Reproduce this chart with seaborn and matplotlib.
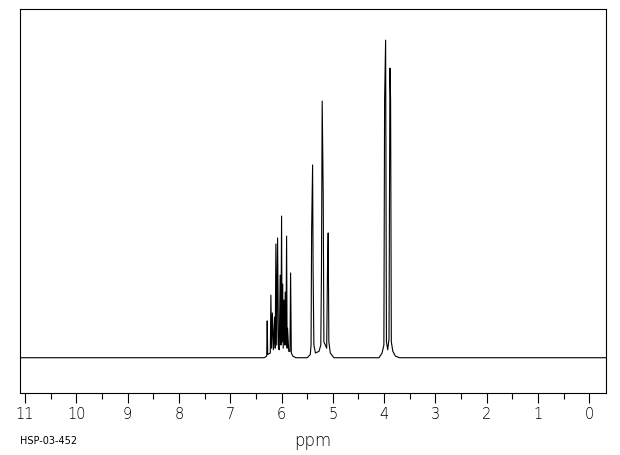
import pandas as pd
import matplotlib.pyplot as plt
import seaborn as sns

# Trace vertices (ppm, relative intensity; tallest line = 100)
baseline_ppm = [11.10, 6.34, 5.72, 5.50, 4.98, 4.10, 3.70, -0.32]
baseline_int = [0, 0, 0, 0, 0, 0, 0, 0]

vinyl_ppm = [6.29, 6.280, 6.27, 6.22, 6.208, 6.195, 6.179, 6.16, 6.136, 6.124,
             6.111, 6.095, 6.078, 6.06, 6.045, 6.027, 6.013, 6.000, 5.990, 5.980,
             5.968, 5.955, 5.942, 5.929, 5.915, 5.902, 5.892, 5.883, 5.86, 5.836,
             5.824, 5.81, 5.78]
vinyl_int = [0.5, 11.6, 1, 1.5, 19.7, 3, 14.1, 2.5, 12.8, 3,
             35.8, 4, 37.7, 3, 2.5, 26.0, 4, 44.6, 5, 23.2,
             3, 18.2, 4, 20.7, 4, 38.3, 3, 9.3, 2, 2,
             26.7, 1.5, 0.5]

methylene_ppm = [5.44, 5.425, 5.414, 5.395, 5.385, 5.37, 5.34, 5.27, 5.235, 5.222,
                 5.208, 5.188, 5.175, 5.12, 5.105, 5.091, 5.078, 5.05]
methylene_int = [1, 4, 40.1, 60.7, 27.5, 4, 1.5, 2, 4, 27.5,
                 80.8, 51.2, 5, 3, 27.5, 39.3, 5, 1.5]

allyl_ppm = [4.04, 4.005, 3.991, 3.971, 3.955, 3.930, 3.905, 3.887, 3.874, 3.860,
             3.83, 3.78]
allyl_int = [1.5, 4, 81.1, 100, 5, 2.5, 6, 91.2, 81.1, 5,
             2, 0.5]

major_ticks = list(range(0, 12))
minor_ticks = [x + 0.5 for x in range(0, 11)]

df = pd.DataFrame({
    "ppm": baseline_ppm + vinyl_ppm + methylene_ppm + allyl_ppm,
    "intensity": baseline_int + vinyl_int + methylene_int + allyl_int,
}).sort_values("ppm")

fig = plt.figure(figsize=(6.2, 4.55), dpi=100, facecolor="w")
ax = fig.add_axes([0.0323, 0.1363, 0.9446, 0.8439])

sns.lineplot(data=df, x="ppm", y="intensity", estimator=None, sort=False,
             color="black", linewidth=0.8, ax=ax)

ax.set_xlim(11.10, -0.32)
ax.set_ylim(-11.1, 109.8)
ax.set_xticks(major_ticks)
ax.set_xticks(minor_ticks, minor=True)
ax.set_yticks([])
ax.tick_params(axis="x", which="major", length=7.2, width=0.8, pad=3,
               labelsize=10.5, direction="out")
ax.tick_params(axis="x", which="minor", length=4, width=0.8, direction="out")
for lbl in ax.get_xticklabels():
    lbl.set_fontweight("light")
for s in ax.spines.values():
    s.set_linewidth(0.8)
ax.set_xlabel("ppm", fontsize=12, labelpad=7, fontweight="light")
ax.set_ylabel("")

fig.text(20 / 620, 1 - 441 / 455, "HSP-03-452", fontsize=7, va="center", ha="left")

fig.savefig("out.png", dpi=100)
